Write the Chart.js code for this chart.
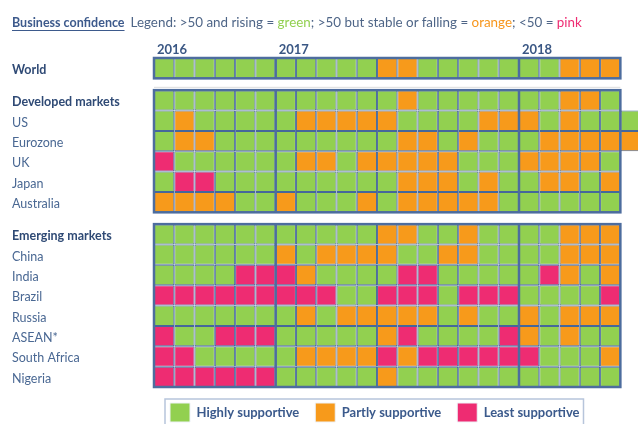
<!DOCTYPE html>
<html>
<head>
<meta charset="utf-8">
<script src="https://cdn.jsdelivr.net/npm/chart.js@4.4.1/dist/chart.umd.min.js"></script>
<style>
  html, body { margin: 0; padding: 0; background: #ffffff; }
  #wrap { position: relative; width: 638px; height: 424px; overflow: hidden; }
  #head { position: absolute; left: 12px; top: 11px; font-family: Lato, sans-serif; white-space: nowrap; }
  #head .title { font-size: 12.5px; font-weight: bold; color: #3d5a8c; text-decoration: underline; text-underline-offset: 3px; }
  #head .note { font-size: 13.4px; color: #4e6587; margin-left: 6px; }
</style>
</head>
<body>
<div id="wrap">
  <canvas id="grid" width="638" height="424"></canvas>
  <div id="head">
    <span class="title">Business confidence</span><span class="note">Legend: &gt;50 and rising = <span style="color:#92d050">green</span>; &gt;50 but stable or falling = <span style="color:#f7961c">orange</span>; &lt;50 = <span style="color:#ee2c72">pink</span></span>
  </div>
</div>
<script>
// months shown in the grid, Jul 2016 .. Jun 2018
const months = ["Jul 2016", "Aug 2016", "Sep 2016", "Oct 2016", "Nov 2016", "Dec 2016",
    "Jan 2017", "Feb 2017", "Mar 2017", "Apr 2017", "May 2017", "Jun 2017",
    "Jul 2017", "Aug 2017", "Sep 2017", "Oct 2017", "Nov 2017", "Dec 2017",
    "Jan 2018", "Feb 2018", "Mar 2018", "Apr 2018", "May 2018", "Jun 2018"];

// G = highly supportive, O = partly supportive, P = least supportive
const world       = [..."GGGGGGGGGGGOOGGGGGGGOOO"];
const developed   = [..."GGGGGGGGGGGGOGGGGGGGOOG"];
const us          = [..."GOGGGGGOOOOOGGGGOOOGOGGG"];
const eurozone    = [..."GOOGGGGGGGGGOOGOGGGOOOOO"];
const uk          = [..."PGGGGGGOOGOOOOOGGGOOOOG"];
const japan       = [..."GPPGGGGGGGGGOOOGOGGOOGO"];
const australia   = [..."OOOOGGOGGGOGOOOOOGGGGGG"];
const emerging    = [..."GGGGGGGGGGGOOGGOGGGGOOO"];
const china       = [..."GGGGGGOGOOOOGGOOGGGGOOO"];
const india       = [..."GGGGPPPOGGGGPPGGGGGPOGO"];
const brazil      = [..."PPPPPPPPPGGPPPGPPPGGGGP"];
const russia      = [..."GGGGGGGOGOOOOOGOGGOGOOO"];
const asean       = [..."PGGPPPGGGGGOPGGGGPOGOGG"];
const southAfrica = [..."PPGGGGGOOOOPOPPPPPPGGGO"];
const nigeria     = [..."PPPPPPGGGGGOGGGGGGGGGGG"];

const rowLabels = ["World", "Developed markets", "US", "Eurozone", "UK", "Japan", "Australia",
    "Emerging markets", "China", "India", "Brazil", "Russia", "ASEAN*", "South Africa", "Nigeria"];
const rowCodes = [world, developed, us, eurozone, uk, japan, australia,
    emerging, china, india, brazil, russia, asean, southAfrica, nigeria];
const headerRows = ["World", "Developed markets", "Emerging markets"];

const categories = [
    { code: "G", label: "Highly supportive", color: "#92d050" },
    { code: "O", label: "Partly supportive", color: "#f79a1b" },
    { code: "P", label: "Least supportive", color: "#ee2c72" }
];

// row positions: a half-row gap before each block header (except the first)
const gap = 0.58;
let blockCount = 0;
const rowPositions = rowLabels.map((label, i) => {
    if (i > 0 && headerRows.includes(label)) blockCount++;
    return i + blockCount * gap;
});
const blocks = [];
rowLabels.forEach((label, i) => {
    if (headerRows.includes(label)) blocks.push([i, i]);
    else blocks[blocks.length - 1][1] = i;
});

const yearLabels = [];
const yearStarts = [];
months.forEach((m, i) => {
    const yr = m.split(" ")[1];
    if (!yearLabels.includes(yr)) {
        yearLabels.push(yr);
        yearStarts.push(i);
    }
});

const datasets = categories.map(cat => {
    const cells = [];
    rowCodes.forEach((codes, r) => {
        codes.forEach((c, col) => {
            if (c === cat.code) cells.push({ x: [col, col + 1], y: rowPositions[r] });
        });
    });
    return {
        label: cat.label,
        data: cells,
        backgroundColor: cat.color,
        borderColor: "#45679b",
        borderWidth: 1,
        borderSkipped: false,
        inflateAmount: 0,
        grouped: false,
        barPercentage: 1,
        categoryPercentage: 1
    };
});

const framePlugin = {
    id: "frames",
    afterDatasetsDraw(chart) {
        const { ctx, scales: { x, y } } = chart;
        const left = x.getPixelForValue(0);
        const right = x.getPixelForValue(world.length);
        ctx.save();
        // faint rule under the World row
        const ruleY = y.getPixelForValue((rowPositions[0] + rowPositions[1]) / 2 + 0.15);
        ctx.strokeStyle = "#dcdcdc";
        ctx.lineWidth = 1;
        ctx.beginPath();
        ctx.moveTo(left, ruleY);
        ctx.lineTo(right, ruleY);
        ctx.stroke();

        ctx.strokeStyle = "#4d6d9e";
        ctx.lineWidth = 2.5;
        blocks.forEach(([first, last]) => {
            const top = y.getPixelForValue(rowPositions[first] - 0.5);
            const bottom = y.getPixelForValue(rowPositions[last] + 0.5);
            ctx.strokeRect(left, top, right - left, bottom - top);
            yearStarts.slice(1).forEach(c => {
                const px = x.getPixelForValue(c);
                ctx.beginPath();
                ctx.moveTo(px, top);
                ctx.lineTo(px, bottom);
                ctx.stroke();
            });
        });
        ctx.restore();
    },
    afterDraw(chart) {
        const boxes = chart.legend.legendHitBoxes;
        if (!boxes || !boxes.length) return;
        const ctx = chart.ctx;
        const l = Math.min(...boxes.map(b => b.left)) - 5;
        const r = Math.max(...boxes.map(b => b.left + b.width)) + 4;
        const t = Math.min(...boxes.map(b => b.top)) - 4;
        ctx.save();
        ctx.strokeStyle = "#b7c5db";
        ctx.lineWidth = 1.5;
        ctx.strokeRect(l, t, r - l, chart.height + 10 - t);
        ctx.restore();
    }
};

new Chart(document.getElementById("grid"), {
    type: "bar",
    data: { datasets },
    plugins: [framePlugin],
    options: {
        responsive: false,
        animation: false,
        indexAxis: "y",
        layout: { padding: { left: 12, top: 30, right: 0, bottom: -8 } },
        scales: {
            x: {
                type: "linear",
                position: "top",
                offset: false,
                min: 0,
                max: 23.87,
                grid: { display: false, drawTicks: false },
                border: { display: false },
                afterBuildTicks: (scale) => { scale.ticks = yearStarts.map(v => ({ value: v })); },
                afterFit: (scale) => { scale.height = 28; },
                ticks: {
                    autoSkip: false,
                    maxRotation: 0,
                    align: "start",
                    labelOffset: 3,
                    padding: 0,
                    color: "#3a5784",
                    font: { family: "Lato", size: 13, weight: "bold" },
                    callback: (v, i) => yearLabels[i]
                }
            },
            y: {
                type: "linear",
                reverse: true,
                offset: false,
                min: rowPositions[0] - 0.5,
                max: rowPositions[rowPositions.length - 1] + 0.5,
                grid: { display: false, drawTicks: false, offset: false },
                border: { display: false },
                afterBuildTicks: (scale) => { scale.ticks = rowPositions.map(v => ({ value: v })); },
                afterFit: (scale) => { scale.width = 142; },
                ticks: {
                    autoSkip: false,
                    crossAlign: "far",
                    labelOffset: 2,
                    color: (ctx) => headerRows.includes(rowLabels[ctx.index]) ? "#2f4a75" : "#4a6893",
                    font: (ctx) => ({
                        family: "Lato",
                        size: 12.5,
                        weight: headerRows.includes(rowLabels[ctx.index]) ? "bold" : "normal"
                    }),
                    callback: (v, i) => rowLabels[i]
                }
            }
        },
        plugins: {
            tooltip: { enabled: false },
            legend: {
                position: "bottom",
                fullSize: false,
                align: "start",
                labels: {
                    boxWidth: 20,
                    boxHeight: 19,
                    padding: 16,
                    color: "#3b5a8c",
                    font: { family: "Lato", size: 13, weight: "bold" },
                    generateLabels: (chart) => Chart.defaults.plugins.legend.labels.generateLabels(chart)
                        .map(item => Object.assign(item, { strokeStyle: "#eef2f8", lineWidth: 1 }))
                }
            }
        }
    }
});
</script>
</body>
</html>
